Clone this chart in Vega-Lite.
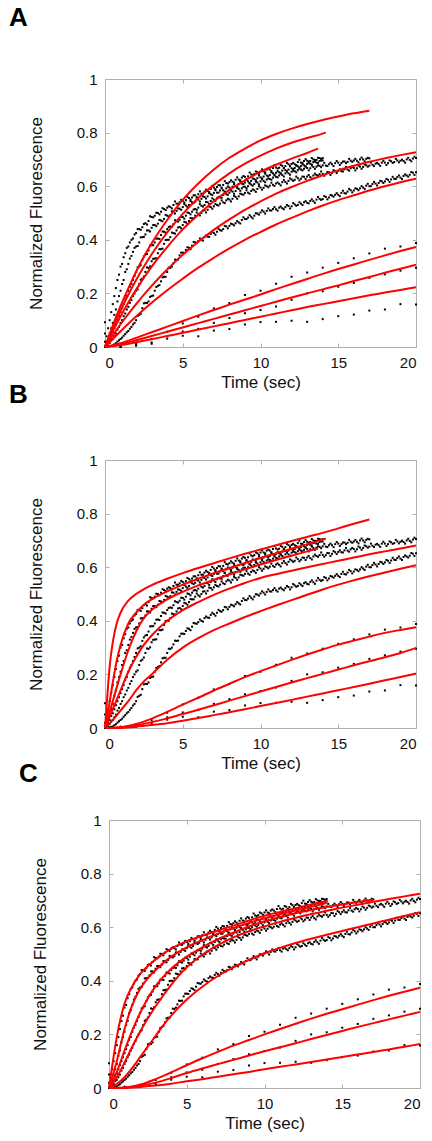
{
"$schema":"https://vega.github.io/schema/vega-lite/v6.json",
"background":"white",
"padding":{"left":8,"top":4,"right":4,"bottom":4},
"config":{
 "view":{"stroke":"#b0b0b0","strokeWidth":1},
 "axis":{"domain":false,"grid":false,"tickColor":"#b0b0b0","tickSize":-4,"tickWidth":1,"labelFont":"Liberation Sans","labelFontSize":15,"labelColor":"#111","labelPadding":12,"titleFont":"Liberation Sans","titleFontSize":17,"titleFontWeight":"normal","titleColor":"#111"},
 "title":{"font":"Liberation Sans","fontSize":26,"fontWeight":"bold","color":"#000","anchor":"start","frame":"group"}
},
"datasets":{
"dots":[
{"s":"T1","t":0,"v":0.092},{"s":"T1","t":0.1,"v":0.04},{"s":"T1","t":0.2,"v":0.07},{"s":"T1","t":0.3,"v":0.1},{"s":"T1","t":0.4,"v":0.13},{"s":"T1","t":0.5,"v":0.16},{"s":"T1","t":0.6,"v":0.19},{"s":"T1","t":0.7,"v":0.22},{"s":"T1","t":0.8,"v":0.25},{"s":"T1","t":0.9,"v":0.27},{"s":"T1","t":1.0,"v":0.3},{"s":"T1","t":1.1,"v":0.31},{"s":"T1","t":1.2,"v":0.335},{"s":"T1","t":1.3,"v":0.35},{"s":"T1","t":1.4,"v":0.37},{"s":"T1","t":1.5,"v":0.375},{"s":"T1","t":1.6,"v":0.39},{"s":"T1","t":1.7,"v":0.4},{"s":"T1","t":1.8,"v":0.405},{"s":"T1","t":1.9,"v":0.42},{"s":"T1","t":2.0,"v":0.425},
{"s":"T1","t":2.2,"v":0.44},{"s":"T1","t":2.4,"v":0.447},{"s":"T1","t":2.6,"v":0.462},{"s":"T1","t":2.8,"v":0.47},{"s":"T1","t":3.0,"v":0.485},{"s":"T1","t":3.2,"v":0.49},{"s":"T1","t":3.4,"v":0.5},{"s":"T1","t":3.6,"v":0.505},{"s":"T1","t":3.8,"v":0.515},{"s":"T1","t":4.0,"v":0.52},{"s":"T1","t":4.2,"v":0.522},{"s":"T1","t":4.4,"v":0.53},{"s":"T1","t":4.6,"v":0.535},{"s":"T1","t":4.8,"v":0.54},{"s":"T1","t":5.0,"v":0.545},{"s":"T1","t":5.2,"v":0.548},{"s":"T1","t":5.4,"v":0.556},{"s":"T1","t":5.6,"v":0.558},{"s":"T1","t":5.8,"v":0.566},{"s":"T1","t":6.0,"v":0.57},{"s":"T1","t":6.2,"v":0.572},{"s":"T1","t":6.4,"v":0.58},{"s":"T1","t":6.6,"v":0.582},{"s":"T1","t":6.8,"v":0.59},{"s":"T1","t":7.0,"v":0.595},{"s":"T1","t":7.2,"v":0.597},{"s":"T1","t":7.4,"v":0.603},{"s":"T1","t":7.6,"v":0.605},{"s":"T1","t":7.8,"v":0.612},{"s":"T1","t":8.0,"v":0.615},{"s":"T1","t":8.2,"v":0.617},{"s":"T1","t":8.4,"v":0.624},{"s":"T1","t":8.6,"v":0.625},{"s":"T1","t":8.8,"v":0.632},{"s":"T1","t":9.0,"v":0.635},{"s":"T1","t":9.2,"v":0.637},{"s":"T1","t":9.4,"v":0.644},{"s":"T1","t":9.6,"v":0.645},{"s":"T1","t":9.8,"v":0.652},{"s":"T1","t":10.0,"v":0.655},{"s":"T1","t":10.2,"v":0.655},{"s":"T1","t":10.4,"v":0.662},{"s":"T1","t":10.6,"v":0.662},{"s":"T1","t":10.8,"v":0.668},{"s":"T1","t":11.0,"v":0.67},{"s":"T1","t":11.2,"v":0.669},{"s":"T1","t":11.4,"v":0.676},{"s":"T1","t":11.6,"v":0.675},{"s":"T1","t":11.8,"v":0.682},{"s":"T1","t":12.0,"v":0.683},{"s":"T1","t":12.2,"v":0.682},{"s":"T1","t":12.4,"v":0.69},{"s":"T1","t":12.6,"v":0.688},{"s":"T1","t":12.8,"v":0.694},{"s":"T1","t":13.0,"v":0.695},{"s":"T1","t":13.2,"v":0.694},{"s":"T1","t":13.4,"v":0.7},{"s":"T1","t":13.6,"v":0.698},{"s":"T1","t":13.8,"v":0.705},{"s":"T1","t":14.0,"v":0.705},
{"s":"T1","t":2.1,"v":0.44},{"s":"T1","t":2.3,"v":0.437},{"s":"T1","t":2.5,"v":0.459},{"s":"T1","t":2.7,"v":0.457},{"s":"T1","t":2.9,"v":0.488},{"s":"T1","t":3.1,"v":0.484},{"s":"T1","t":3.3,"v":0.501},{"s":"T1","t":3.5,"v":0.495},{"s":"T1","t":3.7,"v":0.518},{"s":"T1","t":3.9,"v":0.511},{"s":"T1","t":4.1,"v":0.525},{"s":"T1","t":4.3,"v":0.517},{"s":"T1","t":4.5,"v":0.543},{"s":"T1","t":4.7,"v":0.534},{"s":"T1","t":4.9,"v":0.549},{"s":"T1","t":5.1,"v":0.539},{"s":"T1","t":5.3,"v":0.56},{"s":"T1","t":5.5,"v":0.55},{"s":"T1","t":5.7,"v":0.566},{"s":"T1","t":5.9,"v":0.559},{"s":"T1","t":6.1,"v":0.581},{"s":"T1","t":6.3,"v":0.572},{"s":"T1","t":6.5,"v":0.587},{"s":"T1","t":6.7,"v":0.578},{"s":"T1","t":6.9,"v":0.601},{"s":"T1","t":7.1,"v":0.589},{"s":"T1","t":7.3,"v":0.604},{"s":"T1","t":7.5,"v":0.595},{"s":"T1","t":7.7,"v":0.619},{"s":"T1","t":7.9,"v":0.61},{"s":"T1","t":8.1,"v":0.622},{"s":"T1","t":8.3,"v":0.613},{"s":"T1","t":8.5,"v":0.633},{"s":"T1","t":8.7,"v":0.622},{"s":"T1","t":8.9,"v":0.638},{"s":"T1","t":9.1,"v":0.627},{"s":"T1","t":9.3,"v":0.651},{"s":"T1","t":9.5,"v":0.641},{"s":"T1","t":9.7,"v":0.655},{"s":"T1","t":9.9,"v":0.646},{"s":"T1","t":10.1,"v":0.663},{"s":"T1","t":10.3,"v":0.652},{"s":"T1","t":10.5,"v":0.666},{"s":"T1","t":10.7,"v":0.656},{"s":"T1","t":10.9,"v":0.679},{"s":"T1","t":11.1,"v":0.666},{"s":"T1","t":11.3,"v":0.679},{"s":"T1","t":11.5,"v":0.668},{"s":"T1","t":11.7,"v":0.687},{"s":"T1","t":11.9,"v":0.676},{"s":"T1","t":12.1,"v":0.687},{"s":"T1","t":12.3,"v":0.677},{"s":"T1","t":12.5,"v":0.699},{"s":"T1","t":12.7,"v":0.687},{"s":"T1","t":12.9,"v":0.701},{"s":"T1","t":13.1,"v":0.687},{"s":"T1","t":13.3,"v":0.705},{"s":"T1","t":13.5,"v":0.692},{"s":"T1","t":13.7,"v":0.706},{"s":"T1","t":13.9,"v":0.696},
{"s":"T2","t":0,"v":0.05},{"s":"T2","t":0.1,"v":0.02},{"s":"T2","t":0.2,"v":0.03},{"s":"T2","t":0.3,"v":0.05},{"s":"T2","t":0.4,"v":0.07},{"s":"T2","t":0.5,"v":0.09},{"s":"T2","t":0.6,"v":0.12},{"s":"T2","t":0.7,"v":0.14},{"s":"T2","t":0.8,"v":0.17},{"s":"T2","t":0.9,"v":0.19},{"s":"T2","t":1.0,"v":0.21},{"s":"T2","t":1.1,"v":0.235},{"s":"T2","t":1.2,"v":0.25},{"s":"T2","t":1.3,"v":0.28},{"s":"T2","t":1.4,"v":0.29},{"s":"T2","t":1.5,"v":0.31},{"s":"T2","t":1.6,"v":0.33},{"s":"T2","t":1.7,"v":0.34},{"s":"T2","t":1.8,"v":0.355},{"s":"T2","t":1.9,"v":0.37},{"s":"T2","t":2.0,"v":0.375},
{"s":"T2","t":2.2,"v":0.39},{"s":"T2","t":2.4,"v":0.41},{"s":"T2","t":2.6,"v":0.42},{"s":"T2","t":2.8,"v":0.435},{"s":"T2","t":3.0,"v":0.445},{"s":"T2","t":3.2,"v":0.455},{"s":"T2","t":3.4,"v":0.46},{"s":"T2","t":3.6,"v":0.472},{"s":"T2","t":3.8,"v":0.478},{"s":"T2","t":4.0,"v":0.49},{"s":"T2","t":4.2,"v":0.492},{"s":"T2","t":4.4,"v":0.505},{"s":"T2","t":4.6,"v":0.508},{"s":"T2","t":4.8,"v":0.516},{"s":"T2","t":5.0,"v":0.522},{"s":"T2","t":5.2,"v":0.528},{"s":"T2","t":5.4,"v":0.53},{"s":"T2","t":5.6,"v":0.54},{"s":"T2","t":5.8,"v":0.542},{"s":"T2","t":6.0,"v":0.55},{"s":"T2","t":6.2,"v":0.553},{"s":"T2","t":6.4,"v":0.56},{"s":"T2","t":6.6,"v":0.562},{"s":"T2","t":6.8,"v":0.57},{"s":"T2","t":7.0,"v":0.575},{"s":"T2","t":7.2,"v":0.576},{"s":"T2","t":7.4,"v":0.584},{"s":"T2","t":7.6,"v":0.585},{"s":"T2","t":7.8,"v":0.592},{"s":"T2","t":8.0,"v":0.595},{"s":"T2","t":8.2,"v":0.598},{"s":"T2","t":8.4,"v":0.6},{"s":"T2","t":8.6,"v":0.608},{"s":"T2","t":8.8,"v":0.61},{"s":"T2","t":9.0,"v":0.614},{"s":"T2","t":9.2,"v":0.618},{"s":"T2","t":9.4,"v":0.62},{"s":"T2","t":9.6,"v":0.627},{"s":"T2","t":9.8,"v":0.63},{"s":"T2","t":10.0,"v":0.633},{"s":"T2","t":10.2,"v":0.636},{"s":"T2","t":10.4,"v":0.64},{"s":"T2","t":10.6,"v":0.642},{"s":"T2","t":10.8,"v":0.648},{"s":"T2","t":11.0,"v":0.65},{"s":"T2","t":11.2,"v":0.652},{"s":"T2","t":11.4,"v":0.658},{"s":"T2","t":11.6,"v":0.66},{"s":"T2","t":11.8,"v":0.662},{"s":"T2","t":12.0,"v":0.667},{"s":"T2","t":12.2,"v":0.668},{"s":"T2","t":12.4,"v":0.674},{"s":"T2","t":12.6,"v":0.675},{"s":"T2","t":12.8,"v":0.678},{"s":"T2","t":13.0,"v":0.683},{"s":"T2","t":13.2,"v":0.684},{"s":"T2","t":13.4,"v":0.69},{"s":"T2","t":13.6,"v":0.688},{"s":"T2","t":13.8,"v":0.694},{"s":"T2","t":14.0,"v":0.696},
{"s":"T2","t":2.1,"v":0.377},{"s":"T2","t":2.3,"v":0.409},{"s":"T2","t":2.5,"v":0.411},{"s":"T2","t":2.7,"v":0.435},{"s":"T2","t":2.9,"v":0.431},{"s":"T2","t":3.1,"v":0.455},{"s":"T2","t":3.3,"v":0.451},{"s":"T2","t":3.5,"v":0.474},{"s":"T2","t":3.7,"v":0.469},{"s":"T2","t":3.9,"v":0.493},{"s":"T2","t":4.1,"v":0.487},{"s":"T2","t":4.3,"v":0.506},{"s":"T2","t":4.5,"v":0.498},{"s":"T2","t":4.7,"v":0.517},{"s":"T2","t":4.9,"v":0.512},{"s":"T2","t":5.1,"v":0.533},{"s":"T2","t":5.3,"v":0.523},{"s":"T2","t":5.5,"v":0.544},{"s":"T2","t":5.7,"v":0.537},{"s":"T2","t":5.9,"v":0.553},{"s":"T2","t":6.1,"v":0.543},{"s":"T2","t":6.3,"v":0.562},{"s":"T2","t":6.5,"v":0.554},{"s":"T2","t":6.7,"v":0.574},{"s":"T2","t":6.9,"v":0.567},{"s":"T2","t":7.1,"v":0.585},{"s":"T2","t":7.3,"v":0.576},{"s":"T2","t":7.5,"v":0.592},{"s":"T2","t":7.7,"v":0.58},{"s":"T2","t":7.9,"v":0.599},{"s":"T2","t":8.1,"v":0.59},{"s":"T2","t":8.3,"v":0.607},{"s":"T2","t":8.5,"v":0.598},{"s":"T2","t":8.7,"v":0.618},{"s":"T2","t":8.9,"v":0.608},{"s":"T2","t":9.1,"v":0.623},{"s":"T2","t":9.3,"v":0.61},{"s":"T2","t":9.5,"v":0.629},{"s":"T2","t":9.7,"v":0.622},{"s":"T2","t":9.9,"v":0.64},{"s":"T2","t":10.1,"v":0.629},{"s":"T2","t":10.3,"v":0.647},{"s":"T2","t":10.5,"v":0.637},{"s":"T2","t":10.7,"v":0.652},{"s":"T2","t":10.9,"v":0.64},{"s":"T2","t":11.1,"v":0.656},{"s":"T2","t":11.3,"v":0.648},{"s":"T2","t":11.5,"v":0.667},{"s":"T2","t":11.7,"v":0.655},{"s":"T2","t":11.9,"v":0.674},{"s":"T2","t":12.1,"v":0.664},{"s":"T2","t":12.3,"v":0.678},{"s":"T2","t":12.5,"v":0.666},{"s":"T2","t":12.7,"v":0.682},{"s":"T2","t":12.9,"v":0.674},{"s":"T2","t":13.1,"v":0.692},{"s":"T2","t":13.3,"v":0.681},{"s":"T2","t":13.5,"v":0.698},{"s":"T2","t":13.7,"v":0.687},{"s":"T2","t":13.9,"v":0.702},
{"s":"T3","t":0,"v":0.02},{"s":"T3","t":0.1,"v":0.01},{"s":"T3","t":0.2,"v":0.02},{"s":"T3","t":0.3,"v":0.03},{"s":"T3","t":0.4,"v":0.045},{"s":"T3","t":0.5,"v":0.055},{"s":"T3","t":0.6,"v":0.07},{"s":"T3","t":0.7,"v":0.085},{"s":"T3","t":0.8,"v":0.1},{"s":"T3","t":0.9,"v":0.115},{"s":"T3","t":1.0,"v":0.13},{"s":"T3","t":1.1,"v":0.145},{"s":"T3","t":1.2,"v":0.16},{"s":"T3","t":1.3,"v":0.18},{"s":"T3","t":1.4,"v":0.19},{"s":"T3","t":1.5,"v":0.21},{"s":"T3","t":1.6,"v":0.225},{"s":"T3","t":1.7,"v":0.235},{"s":"T3","t":1.8,"v":0.25},{"s":"T3","t":1.9,"v":0.265},{"s":"T3","t":2.0,"v":0.28},
{"s":"T3","t":2.2,"v":0.3},{"s":"T3","t":2.4,"v":0.325},{"s":"T3","t":2.6,"v":0.345},{"s":"T3","t":2.8,"v":0.36},{"s":"T3","t":3.0,"v":0.38},{"s":"T3","t":3.2,"v":0.39},{"s":"T3","t":3.4,"v":0.405},{"s":"T3","t":3.6,"v":0.418},{"s":"T3","t":3.8,"v":0.43},{"s":"T3","t":4.0,"v":0.44},{"s":"T3","t":4.2,"v":0.45},{"s":"T3","t":4.4,"v":0.458},{"s":"T3","t":4.6,"v":0.47},{"s":"T3","t":4.8,"v":0.475},{"s":"T3","t":5.0,"v":0.485},{"s":"T3","t":5.2,"v":0.49},{"s":"T3","t":5.4,"v":0.5},{"s":"T3","t":5.6,"v":0.505},{"s":"T3","t":5.8,"v":0.515},{"s":"T3","t":6.0,"v":0.52},{"s":"T3","t":6.2,"v":0.527},{"s":"T3","t":6.4,"v":0.53},{"s":"T3","t":6.6,"v":0.54},{"s":"T3","t":6.8,"v":0.545},{"s":"T3","t":7.0,"v":0.55},{"s":"T3","t":7.2,"v":0.555},{"s":"T3","t":7.4,"v":0.558},{"s":"T3","t":7.6,"v":0.567},{"s":"T3","t":7.8,"v":0.57},{"s":"T3","t":8.0,"v":0.576},{"s":"T3","t":8.2,"v":0.58},{"s":"T3","t":8.4,"v":0.582},{"s":"T3","t":8.6,"v":0.59},{"s":"T3","t":8.8,"v":0.592},{"s":"T3","t":9.0,"v":0.598},{"s":"T3","t":9.2,"v":0.6},{"s":"T3","t":9.4,"v":0.606},{"s":"T3","t":9.6,"v":0.608},{"s":"T3","t":9.8,"v":0.614},{"s":"T3","t":10.0,"v":0.618},{"s":"T3","t":10.2,"v":0.62},{"s":"T3","t":10.4,"v":0.625},{"s":"T3","t":10.6,"v":0.627},{"s":"T3","t":10.8,"v":0.632},{"s":"T3","t":11.0,"v":0.635},{"s":"T3","t":11.2,"v":0.64},{"s":"T3","t":11.4,"v":0.642},{"s":"T3","t":11.6,"v":0.648},{"s":"T3","t":11.8,"v":0.648},{"s":"T3","t":12.0,"v":0.654},{"s":"T3","t":12.2,"v":0.656},{"s":"T3","t":12.4,"v":0.66},{"s":"T3","t":12.6,"v":0.662},{"s":"T3","t":12.8,"v":0.665},{"s":"T3","t":13.0,"v":0.668},{"s":"T3","t":13.2,"v":0.667},{"s":"T3","t":13.4,"v":0.672},{"s":"T3","t":13.6,"v":0.673},{"s":"T3","t":13.8,"v":0.676},{"s":"T3","t":14.0,"v":0.678},{"s":"T3","t":14.2,"v":0.677},{"s":"T3","t":14.4,"v":0.682},{"s":"T3","t":14.6,"v":0.682},{"s":"T3","t":14.8,"v":0.686},{"s":"T3","t":15.0,"v":0.688},{"s":"T3","t":15.2,"v":0.686},{"s":"T3","t":15.4,"v":0.692},{"s":"T3","t":15.6,"v":0.691},{"s":"T3","t":15.8,"v":0.695},{"s":"T3","t":16.0,"v":0.696},{"s":"T3","t":16.2,"v":0.695},{"s":"T3","t":16.4,"v":0.7},{"s":"T3","t":16.6,"v":0.7},{"s":"T3","t":16.8,"v":0.702},{"s":"T3","t":17.0,"v":0.704},
{"s":"T3","t":2.1,"v":0.297},{"s":"T3","t":2.3,"v":0.305},{"s":"T3","t":2.5,"v":0.338},{"s":"T3","t":2.7,"v":0.347},{"s":"T3","t":2.9,"v":0.379},{"s":"T3","t":3.1,"v":0.38},{"s":"T3","t":3.3,"v":0.404},{"s":"T3","t":3.5,"v":0.403},{"s":"T3","t":3.7,"v":0.431},{"s":"T3","t":3.9,"v":0.427},{"s":"T3","t":4.1,"v":0.448},{"s":"T3","t":4.3,"v":0.448},{"s":"T3","t":4.5,"v":0.473},{"s":"T3","t":4.7,"v":0.468},{"s":"T3","t":4.9,"v":0.486},{"s":"T3","t":5.1,"v":0.479},{"s":"T3","t":5.3,"v":0.502},{"s":"T3","t":5.5,"v":0.495},{"s":"T3","t":5.7,"v":0.513},{"s":"T3","t":5.9,"v":0.512},{"s":"T3","t":6.1,"v":0.533},{"s":"T3","t":6.3,"v":0.524},{"s":"T3","t":6.5,"v":0.541},{"s":"T3","t":6.7,"v":0.534},{"s":"T3","t":6.9,"v":0.555},{"s":"T3","t":7.1,"v":0.545},{"s":"T3","t":7.3,"v":0.56},{"s":"T3","t":7.5,"v":0.557},{"s":"T3","t":7.7,"v":0.578},{"s":"T3","t":7.9,"v":0.568},{"s":"T3","t":8.1,"v":0.584},{"s":"T3","t":8.3,"v":0.572},{"s":"T3","t":8.5,"v":0.593},{"s":"T3","t":8.7,"v":0.583},{"s":"T3","t":8.9,"v":0.598},{"s":"T3","t":9.1,"v":0.593},{"s":"T3","t":9.3,"v":0.612},{"s":"T3","t":9.5,"v":0.602},{"s":"T3","t":9.7,"v":0.617},{"s":"T3","t":9.9,"v":0.607},{"s":"T3","t":10.1,"v":0.626},{"s":"T3","t":10.3,"v":0.615},{"s":"T3","t":10.5,"v":0.629},{"s":"T3","t":10.7,"v":0.624},{"s":"T3","t":10.9,"v":0.643},{"s":"T3","t":11.1,"v":0.633},{"s":"T3","t":11.3,"v":0.647},{"s":"T3","t":11.5,"v":0.636},{"s":"T3","t":11.7,"v":0.655},{"s":"T3","t":11.9,"v":0.643},{"s":"T3","t":12.1,"v":0.658},{"s":"T3","t":12.3,"v":0.652},{"s":"T3","t":12.5,"v":0.67},{"s":"T3","t":12.7,"v":0.659},{"s":"T3","t":12.9,"v":0.673},{"s":"T3","t":13.1,"v":0.659},{"s":"T3","t":13.3,"v":0.677},{"s":"T3","t":13.5,"v":0.665},{"s":"T3","t":13.7,"v":0.678},{"s":"T3","t":13.9,"v":0.671},{"s":"T3","t":14.1,"v":0.687},{"s":"T3","t":14.3,"v":0.675},{"s":"T3","t":14.5,"v":0.688},{"s":"T3","t":14.7,"v":0.675},{"s":"T3","t":14.9,"v":0.694},{"s":"T3","t":15.1,"v":0.679},{"s":"T3","t":15.3,"v":0.692},{"s":"T3","t":15.5,"v":0.686},{"s":"T3","t":15.7,"v":0.702},{"s":"T3","t":15.9,"v":0.691},{"s":"T3","t":16.1,"v":0.702},{"s":"T3","t":16.3,"v":0.689},{"s":"T3","t":16.5,"v":0.707},{"s":"T3","t":16.7,"v":0.693},{"s":"T3","t":16.9,"v":0.706},
{"s":"T4","t":0,"v":0.005},{"s":"T4","t":0.1,"v":0.005},{"s":"T4","t":0.2,"v":0.01},{"s":"T4","t":0.3,"v":0.015},{"s":"T4","t":0.4,"v":0.025},{"s":"T4","t":0.5,"v":0.03},{"s":"T4","t":0.6,"v":0.04},{"s":"T4","t":0.7,"v":0.05},{"s":"T4","t":0.8,"v":0.065},{"s":"T4","t":0.9,"v":0.075},{"s":"T4","t":1.0,"v":0.09},{"s":"T4","t":1.1,"v":0.1},{"s":"T4","t":1.2,"v":0.115},{"s":"T4","t":1.3,"v":0.125},{"s":"T4","t":1.4,"v":0.14},{"s":"T4","t":1.5,"v":0.15},{"s":"T4","t":1.6,"v":0.165},{"s":"T4","t":1.7,"v":0.175},{"s":"T4","t":1.8,"v":0.19},{"s":"T4","t":1.9,"v":0.2},{"s":"T4","t":2.0,"v":0.21},
{"s":"T4","t":2.2,"v":0.235},{"s":"T4","t":2.4,"v":0.255},{"s":"T4","t":2.6,"v":0.28},{"s":"T4","t":2.8,"v":0.295},{"s":"T4","t":3.0,"v":0.32},{"s":"T4","t":3.2,"v":0.33},{"s":"T4","t":3.4,"v":0.35},{"s":"T4","t":3.6,"v":0.365},{"s":"T4","t":3.8,"v":0.385},{"s":"T4","t":4.0,"v":0.4},{"s":"T4","t":4.2,"v":0.41},{"s":"T4","t":4.4,"v":0.425},{"s":"T4","t":4.6,"v":0.435},{"s":"T4","t":4.8,"v":0.448},{"s":"T4","t":5.0,"v":0.455},{"s":"T4","t":5.2,"v":0.465},{"s":"T4","t":5.4,"v":0.47},{"s":"T4","t":5.6,"v":0.48},{"s":"T4","t":5.8,"v":0.49},{"s":"T4","t":6.0,"v":0.495},{"s":"T4","t":6.2,"v":0.5},{"s":"T4","t":6.4,"v":0.51},{"s":"T4","t":6.6,"v":0.512},{"s":"T4","t":6.8,"v":0.522},{"s":"T4","t":7.0,"v":0.525},{"s":"T4","t":7.2,"v":0.53},{"s":"T4","t":7.4,"v":0.535},{"s":"T4","t":7.6,"v":0.54},{"s":"T4","t":7.8,"v":0.547},{"s":"T4","t":8.0,"v":0.55},{"s":"T4","t":8.2,"v":0.553},{"s":"T4","t":8.4,"v":0.56},{"s":"T4","t":8.6,"v":0.562},{"s":"T4","t":8.8,"v":0.57},{"s":"T4","t":9.0,"v":0.575},{"s":"T4","t":9.2,"v":0.576},{"s":"T4","t":9.4,"v":0.582},{"s":"T4","t":9.6,"v":0.585},{"s":"T4","t":9.8,"v":0.59},{"s":"T4","t":10.0,"v":0.595},{"s":"T4","t":10.2,"v":0.594},{"s":"T4","t":10.4,"v":0.6},{"s":"T4","t":10.6,"v":0.602},{"s":"T4","t":10.8,"v":0.605},{"s":"T4","t":11.0,"v":0.61},{"s":"T4","t":11.2,"v":0.609},{"s":"T4","t":11.4,"v":0.615},{"s":"T4","t":11.6,"v":0.616},{"s":"T4","t":11.8,"v":0.62},{"s":"T4","t":12.0,"v":0.625},{"s":"T4","t":12.2,"v":0.624},{"s":"T4","t":12.4,"v":0.63},{"s":"T4","t":12.6,"v":0.628},{"s":"T4","t":12.8,"v":0.635},{"s":"T4","t":13.0,"v":0.636},{"s":"T4","t":13.2,"v":0.634},{"s":"T4","t":13.4,"v":0.64},{"s":"T4","t":13.6,"v":0.642},{"s":"T4","t":13.8,"v":0.645},{"s":"T4","t":14.0,"v":0.646},{"s":"T4","t":14.2,"v":0.645},{"s":"T4","t":14.4,"v":0.652},{"s":"T4","t":14.6,"v":0.65},{"s":"T4","t":14.8,"v":0.656},{"s":"T4","t":15.0,"v":0.657},{"s":"T4","t":15.2,"v":0.656},{"s":"T4","t":15.4,"v":0.663},{"s":"T4","t":15.6,"v":0.662},{"s":"T4","t":15.8,"v":0.667},{"s":"T4","t":16.0,"v":0.668},{"s":"T4","t":16.2,"v":0.667},{"s":"T4","t":16.4,"v":0.673},{"s":"T4","t":16.6,"v":0.672},{"s":"T4","t":16.8,"v":0.678},{"s":"T4","t":17.0,"v":0.677},{"s":"T4","t":17.2,"v":0.68},{"s":"T4","t":17.4,"v":0.684},{"s":"T4","t":17.6,"v":0.682},{"s":"T4","t":17.8,"v":0.688},{"s":"T4","t":18.0,"v":0.688},{"s":"T4","t":18.2,"v":0.686},{"s":"T4","t":18.4,"v":0.693},{"s":"T4","t":18.6,"v":0.69},{"s":"T4","t":18.8,"v":0.696},{"s":"T4","t":19.0,"v":0.695},{"s":"T4","t":19.2,"v":0.694},{"s":"T4","t":19.4,"v":0.7},{"s":"T4","t":19.6,"v":0.698},{"s":"T4","t":19.8,"v":0.703},{"s":"T4","t":20.0,"v":0.705},
{"s":"T4","t":2.1,"v":0.215},{"s":"T4","t":2.3,"v":0.251},{"s":"T4","t":2.5,"v":0.263},{"s":"T4","t":2.7,"v":0.297},{"s":"T4","t":2.9,"v":0.301},{"s":"T4","t":3.1,"v":0.329},{"s":"T4","t":3.3,"v":0.331},{"s":"T4","t":3.5,"v":0.365},{"s":"T4","t":3.7,"v":0.367},{"s":"T4","t":3.9,"v":0.399},{"s":"T4","t":4.1,"v":0.4},{"s":"T4","t":4.3,"v":0.427},{"s":"T4","t":4.5,"v":0.423},{"s":"T4","t":4.7,"v":0.446},{"s":"T4","t":4.9,"v":0.443},{"s":"T4","t":5.1,"v":0.467},{"s":"T4","t":5.3,"v":0.46},{"s":"T4","t":5.5,"v":0.481},{"s":"T4","t":5.7,"v":0.48},{"s":"T4","t":5.9,"v":0.502},{"s":"T4","t":6.1,"v":0.491},{"s":"T4","t":6.3,"v":0.509},{"s":"T4","t":6.5,"v":0.502},{"s":"T4","t":6.7,"v":0.524},{"s":"T4","t":6.9,"v":0.516},{"s":"T4","t":7.1,"v":0.534},{"s":"T4","t":7.3,"v":0.528},{"s":"T4","t":7.5,"v":0.547},{"s":"T4","t":7.7,"v":0.537},{"s":"T4","t":7.9,"v":0.553},{"s":"T4","t":8.1,"v":0.543},{"s":"T4","t":8.3,"v":0.564},{"s":"T4","t":8.5,"v":0.553},{"s":"T4","t":8.7,"v":0.572},{"s":"T4","t":8.9,"v":0.568},{"s":"T4","t":9.1,"v":0.585},{"s":"T4","t":9.3,"v":0.572},{"s":"T4","t":9.5,"v":0.588},{"s":"T4","t":9.7,"v":0.579},{"s":"T4","t":9.9,"v":0.6},{"s":"T4","t":10.1,"v":0.587},{"s":"T4","t":10.3,"v":0.603},{"s":"T4","t":10.5,"v":0.596},{"s":"T4","t":10.7,"v":0.613},{"s":"T4","t":10.9,"v":0.601},{"s":"T4","t":11.1,"v":0.614},{"s":"T4","t":11.3,"v":0.603},{"s":"T4","t":11.5,"v":0.623},{"s":"T4","t":11.7,"v":0.61},{"s":"T4","t":11.9,"v":0.629},{"s":"T4","t":12.1,"v":0.62},{"s":"T4","t":12.3,"v":0.636},{"s":"T4","t":12.5,"v":0.622},{"s":"T4","t":12.7,"v":0.636},{"s":"T4","t":12.9,"v":0.627},{"s":"T4","t":13.1,"v":0.642},{"s":"T4","t":13.3,"v":0.629},{"s":"T4","t":13.5,"v":0.647},{"s":"T4","t":13.7,"v":0.639},{"s":"T4","t":13.9,"v":0.655},{"s":"T4","t":14.1,"v":0.639},{"s":"T4","t":14.3,"v":0.653},{"s":"T4","t":14.5,"v":0.642},{"s":"T4","t":14.7,"v":0.66},{"s":"T4","t":14.9,"v":0.649},{"s":"T4","t":15.1,"v":0.663},{"s":"T4","t":15.3,"v":0.655},{"s":"T4","t":15.5,"v":0.672},{"s":"T4","t":15.7,"v":0.658},{"s":"T4","t":15.9,"v":0.672},{"s":"T4","t":16.1,"v":0.659},{"s":"T4","t":16.3,"v":0.677},{"s":"T4","t":16.5,"v":0.665},{"s":"T4","t":16.7,"v":0.681},{"s":"T4","t":16.9,"v":0.673},{"s":"T4","t":17.1,"v":0.688},{"s":"T4","t":17.3,"v":0.675},{"s":"T4","t":17.5,"v":0.687},{"s":"T4","t":17.7,"v":0.676},{"s":"T4","t":17.9,"v":0.695},{"s":"T4","t":18.1,"v":0.679},{"s":"T4","t":18.3,"v":0.696},{"s":"T4","t":18.5,"v":0.687},{"s":"T4","t":18.7,"v":0.702},{"s":"T4","t":18.9,"v":0.689},{"s":"T4","t":19.1,"v":0.699},{"s":"T4","t":19.3,"v":0.688},{"s":"T4","t":19.5,"v":0.706},{"s":"T4","t":19.7,"v":0.693},{"s":"T4","t":19.9,"v":0.71},
{"s":"T5","t":0,"v":0},{"s":"T5","t":0.1,"v":0},{"s":"T5","t":0.2,"v":0.002},{"s":"T5","t":0.3,"v":0.003},{"s":"T5","t":0.4,"v":0.004},{"s":"T5","t":0.5,"v":0.006},{"s":"T5","t":0.6,"v":0.01},{"s":"T5","t":0.7,"v":0.014},{"s":"T5","t":0.8,"v":0.02},{"s":"T5","t":0.9,"v":0.025},{"s":"T5","t":1.0,"v":0.03},{"s":"T5","t":1.1,"v":0.035},{"s":"T5","t":1.2,"v":0.042},{"s":"T5","t":1.3,"v":0.048},{"s":"T5","t":1.4,"v":0.055},{"s":"T5","t":1.5,"v":0.06},{"s":"T5","t":1.6,"v":0.068},{"s":"T5","t":1.7,"v":0.075},{"s":"T5","t":1.8,"v":0.084},{"s":"T5","t":1.9,"v":0.09},{"s":"T5","t":2.0,"v":0.1},
{"s":"T5","t":2.2,"v":0.12},{"s":"T5","t":2.4,"v":0.145},{"s":"T5","t":2.6,"v":0.165},{"s":"T5","t":2.8,"v":0.17},{"s":"T5","t":3.0,"v":0.19},{"s":"T5","t":3.2,"v":0.21},{"s":"T5","t":3.4,"v":0.228},{"s":"T5","t":3.6,"v":0.245},{"s":"T5","t":3.8,"v":0.262},{"s":"T5","t":4.0,"v":0.28},{"s":"T5","t":4.2,"v":0.295},{"s":"T5","t":4.4,"v":0.312},{"s":"T5","t":4.6,"v":0.325},{"s":"T5","t":4.8,"v":0.342},{"s":"T5","t":5.0,"v":0.352},{"s":"T5","t":5.2,"v":0.362},{"s":"T5","t":5.4,"v":0.37},{"s":"T5","t":5.6,"v":0.378},{"s":"T5","t":5.8,"v":0.39},{"s":"T5","t":6.0,"v":0.395},{"s":"T5","t":6.2,"v":0.4},{"s":"T5","t":6.4,"v":0.41},{"s":"T5","t":6.6,"v":0.412},{"s":"T5","t":6.8,"v":0.422},{"s":"T5","t":7.0,"v":0.425},{"s":"T5","t":7.2,"v":0.43},{"s":"T5","t":7.4,"v":0.436},{"s":"T5","t":7.6,"v":0.44},{"s":"T5","t":7.8,"v":0.45},{"s":"T5","t":8.0,"v":0.452},{"s":"T5","t":8.2,"v":0.458},{"s":"T5","t":8.4,"v":0.462},{"s":"T5","t":8.6,"v":0.465},{"s":"T5","t":8.8,"v":0.474},{"s":"T5","t":9.0,"v":0.478},{"s":"T5","t":9.2,"v":0.483},{"s":"T5","t":9.4,"v":0.486},{"s":"T5","t":9.6,"v":0.49},{"s":"T5","t":9.8,"v":0.498},{"s":"T5","t":10.0,"v":0.502},{"s":"T5","t":10.2,"v":0.505},{"s":"T5","t":10.4,"v":0.508},{"s":"T5","t":10.6,"v":0.51},{"s":"T5","t":10.8,"v":0.515},{"s":"T5","t":11.0,"v":0.514},{"s":"T5","t":11.2,"v":0.52},{"s":"T5","t":11.4,"v":0.518},{"s":"T5","t":11.6,"v":0.522},{"s":"T5","t":11.8,"v":0.526},{"s":"T5","t":12.0,"v":0.525},{"s":"T5","t":12.2,"v":0.532},{"s":"T5","t":12.4,"v":0.53},{"s":"T5","t":12.6,"v":0.535},{"s":"T5","t":12.8,"v":0.54},{"s":"T5","t":13.0,"v":0.538},{"s":"T5","t":13.2,"v":0.545},{"s":"T5","t":13.4,"v":0.544},{"s":"T5","t":13.6,"v":0.55},{"s":"T5","t":13.8,"v":0.553},{"s":"T5","t":14.0,"v":0.552},{"s":"T5","t":14.2,"v":0.56},{"s":"T5","t":14.4,"v":0.558},{"s":"T5","t":14.6,"v":0.565},{"s":"T5","t":14.8,"v":0.568},{"s":"T5","t":15.0,"v":0.568},{"s":"T5","t":15.2,"v":0.575},{"s":"T5","t":15.4,"v":0.574},{"s":"T5","t":15.6,"v":0.58},{"s":"T5","t":15.8,"v":0.585},{"s":"T5","t":16.0,"v":0.584},{"s":"T5","t":16.2,"v":0.59},{"s":"T5","t":16.4,"v":0.592},{"s":"T5","t":16.6,"v":0.595},{"s":"T5","t":16.8,"v":0.602},{"s":"T5","t":17.0,"v":0.6},{"s":"T5","t":17.2,"v":0.608},{"s":"T5","t":17.4,"v":0.61},{"s":"T5","t":17.6,"v":0.612},{"s":"T5","t":17.8,"v":0.618},{"s":"T5","t":18.0,"v":0.618},{"s":"T5","t":18.2,"v":0.624},{"s":"T5","t":18.4,"v":0.625},{"s":"T5","t":18.6,"v":0.628},{"s":"T5","t":18.8,"v":0.634},{"s":"T5","t":19.0,"v":0.632},{"s":"T5","t":19.2,"v":0.638},{"s":"T5","t":19.4,"v":0.64},{"s":"T5","t":19.6,"v":0.643},{"s":"T5","t":19.8,"v":0.65},{"s":"T5","t":20.0,"v":0.652},
{"s":"T5","t":2.1,"v":0.116},{"s":"T5","t":2.3,"v":0.124},{"s":"T5","t":2.5,"v":0.163},{"s":"T5","t":2.7,"v":0.164},{"s":"T5","t":2.9,"v":0.187},{"s":"T5","t":3.1,"v":0.192},{"s":"T5","t":3.3,"v":0.224},{"s":"T5","t":3.5,"v":0.231},{"s":"T5","t":3.7,"v":0.26},{"s":"T5","t":3.9,"v":0.262},{"s":"T5","t":4.1,"v":0.296},{"s":"T5","t":4.3,"v":0.3},{"s":"T5","t":4.5,"v":0.326},{"s":"T5","t":4.7,"v":0.326},{"s":"T5","t":4.9,"v":0.352},{"s":"T5","t":5.1,"v":0.351},{"s":"T5","t":5.3,"v":0.372},{"s":"T5","t":5.5,"v":0.365},{"s":"T5","t":5.7,"v":0.392},{"s":"T5","t":5.9,"v":0.389},{"s":"T5","t":6.1,"v":0.405},{"s":"T5","t":6.3,"v":0.397},{"s":"T5","t":6.5,"v":0.416},{"s":"T5","t":6.7,"v":0.411},{"s":"T5","t":6.9,"v":0.43},{"s":"T5","t":7.1,"v":0.419},{"s":"T5","t":7.3,"v":0.441},{"s":"T5","t":7.5,"v":0.434},{"s":"T5","t":7.7,"v":0.452},{"s":"T5","t":7.9,"v":0.443},{"s":"T5","t":8.1,"v":0.46},{"s":"T5","t":8.3,"v":0.454},{"s":"T5","t":8.5,"v":0.47},{"s":"T5","t":8.7,"v":0.461},{"s":"T5","t":8.9,"v":0.484},{"s":"T5","t":9.1,"v":0.477},{"s":"T5","t":9.3,"v":0.492},{"s":"T5","t":9.5,"v":0.48},{"s":"T5","t":9.7,"v":0.499},{"s":"T5","t":9.9,"v":0.494},{"s":"T5","t":10.1,"v":0.51},{"s":"T5","t":10.3,"v":0.498},{"s":"T5","t":10.5,"v":0.517},{"s":"T5","t":10.7,"v":0.509},{"s":"T5","t":10.9,"v":0.522},{"s":"T5","t":11.1,"v":0.509},{"s":"T5","t":11.3,"v":0.524},{"s":"T5","t":11.5,"v":0.514},{"s":"T5","t":11.7,"v":0.53},{"s":"T5","t":11.9,"v":0.517},{"s":"T5","t":12.1,"v":0.537},{"s":"T5","t":12.3,"v":0.527},{"s":"T5","t":12.5,"v":0.54},{"s":"T5","t":12.7,"v":0.53},{"s":"T5","t":12.9,"v":0.544},{"s":"T5","t":13.1,"v":0.536},{"s":"T5","t":13.3,"v":0.551},{"s":"T5","t":13.5,"v":0.538},{"s":"T5","t":13.7,"v":0.56},{"s":"T5","t":13.9,"v":0.549},{"s":"T5","t":14.1,"v":0.563},{"s":"T5","t":14.3,"v":0.551},{"s":"T5","t":14.5,"v":0.567},{"s":"T5","t":14.7,"v":0.561},{"s":"T5","t":14.9,"v":0.574},{"s":"T5","t":15.1,"v":0.563},{"s":"T5","t":15.3,"v":0.583},{"s":"T5","t":15.5,"v":0.573},{"s":"T5","t":15.7,"v":0.59},{"s":"T5","t":15.9,"v":0.577},{"s":"T5","t":16.1,"v":0.592},{"s":"T5","t":16.3,"v":0.585},{"s":"T5","t":16.5,"v":0.6},{"s":"T5","t":16.7,"v":0.59},{"s":"T5","t":16.9,"v":0.609},{"s":"T5","t":17.1,"v":0.6},{"s":"T5","t":17.3,"v":0.616},{"s":"T5","t":17.5,"v":0.603},{"s":"T5","t":17.7,"v":0.62},{"s":"T5","t":17.9,"v":0.612},{"s":"T5","t":18.1,"v":0.627},{"s":"T5","t":18.3,"v":0.616},{"s":"T5","t":18.5,"v":0.635},{"s":"T5","t":18.7,"v":0.627},{"s":"T5","t":18.9,"v":0.64},{"s":"T5","t":19.1,"v":0.627},{"s":"T5","t":19.3,"v":0.644},{"s":"T5","t":19.5,"v":0.636},{"s":"T5","t":19.7,"v":0.653},{"s":"T5","t":19.9,"v":0.642},
{"s":"S1","t":1,"v":0.005},{"s":"S1","t":2,"v":0.012},{"s":"S1","t":3,"v":0.03},{"s":"S1","t":4,"v":0.057},{"s":"S1","t":5,"v":0.088},{"s":"S1","t":6,"v":0.113},{"s":"S1","t":7,"v":0.144},{"s":"S1","t":8,"v":0.164},{"s":"S1","t":9,"v":0.194},{"s":"S1","t":10,"v":0.21},{"s":"S1","t":11,"v":0.236},{"s":"S1","t":12,"v":0.262},{"s":"S1","t":13,"v":0.278},{"s":"S1","t":14,"v":0.296},{"s":"S1","t":15,"v":0.314},{"s":"S1","t":16,"v":0.331},{"s":"S1","t":17,"v":0.349},{"s":"S1","t":18,"v":0.367},{"s":"S1","t":19,"v":0.375},{"s":"S1","t":20,"v":0.388},
{"s":"S2","t":1,"v":0.0},{"s":"S2","t":2,"v":0.008},{"s":"S2","t":3,"v":0.017},{"s":"S2","t":4,"v":0.04},{"s":"S2","t":5,"v":0.058},{"s":"S2","t":6,"v":0.068},{"s":"S2","t":7,"v":0.09},{"s":"S2","t":8,"v":0.108},{"s":"S2","t":9,"v":0.126},{"s":"S2","t":10,"v":0.138},{"s":"S2","t":11,"v":0.151},{"s":"S2","t":12,"v":0.176},{"s":"S2","t":13,"v":0.2},{"s":"S2","t":14,"v":0.208},{"s":"S2","t":15,"v":0.225},{"s":"S2","t":16,"v":0.239},{"s":"S2","t":17,"v":0.258},{"s":"S2","t":18,"v":0.271},{"s":"S2","t":19,"v":0.285},{"s":"S2","t":20,"v":0.296},
{"s":"S3","t":1,"v":0.0},{"s":"S3","t":2,"v":0.005},{"s":"S3","t":3,"v":0.012},{"s":"S3","t":4,"v":0.031},{"s":"S3","t":5,"v":0.042},{"s":"S3","t":6,"v":0.04},{"s":"S3","t":7,"v":0.061},{"s":"S3","t":8,"v":0.067},{"s":"S3","t":9,"v":0.084},{"s":"S3","t":10,"v":0.093},{"s":"S3","t":11,"v":0.094},{"s":"S3","t":12,"v":0.098},{"s":"S3","t":13,"v":0.094},{"s":"S3","t":14,"v":0.104},{"s":"S3","t":15,"v":0.115},{"s":"S3","t":16,"v":0.121},{"s":"S3","t":17,"v":0.136},{"s":"S3","t":18,"v":0.14},{"s":"S3","t":19,"v":0.16},{"s":"S3","t":20,"v":0.159}
],
"fA":[
{"c":"A1","t":0,"v":0},{"c":"A1","t":0.5,"v":0.08},{"c":"A1","t":1,"v":0.153},{"c":"A1","t":1.5,"v":0.219},{"c":"A1","t":2,"v":0.281},{"c":"A1","t":3,"v":0.387},{"c":"A1","t":4,"v":0.474},{"c":"A1","t":5,"v":0.549},{"c":"A1","t":6,"v":0.61},{"c":"A1","t":7,"v":0.662},{"c":"A1","t":8,"v":0.706},{"c":"A1","t":9,"v":0.74},{"c":"A1","t":10,"v":0.771},{"c":"A1","t":11,"v":0.795},{"c":"A1","t":12,"v":0.815},{"c":"A1","t":13,"v":0.832},{"c":"A1","t":14,"v":0.847},{"c":"A1","t":15,"v":0.86},{"c":"A1","t":16,"v":0.872},{"c":"A1","t":17,"v":0.882},
{"c":"A2","t":0,"v":0},{"c":"A2","t":0.5,"v":0.07},{"c":"A2","t":1,"v":0.135},{"c":"A2","t":1.5,"v":0.195},{"c":"A2","t":2,"v":0.25},{"c":"A2","t":3,"v":0.346},{"c":"A2","t":4,"v":0.428},{"c":"A2","t":5,"v":0.497},{"c":"A2","t":6,"v":0.556},{"c":"A2","t":7,"v":0.605},{"c":"A2","t":8,"v":0.648},{"c":"A2","t":9,"v":0.684},{"c":"A2","t":10,"v":0.714},{"c":"A2","t":11,"v":0.74},{"c":"A2","t":12,"v":0.762},{"c":"A2","t":13,"v":0.78},{"c":"A2","t":14,"v":0.796},{"c":"A2","t":14.2,"v":0.8},
{"c":"A3","t":0,"v":0},{"c":"A3","t":0.5,"v":0.059},{"c":"A3","t":1,"v":0.114},{"c":"A3","t":1.5,"v":0.166},{"c":"A3","t":2,"v":0.214},{"c":"A3","t":3,"v":0.3},{"c":"A3","t":4,"v":0.373},{"c":"A3","t":5,"v":0.439},{"c":"A3","t":6,"v":0.494},{"c":"A3","t":7,"v":0.544},{"c":"A3","t":8,"v":0.586},{"c":"A3","t":9,"v":0.622},{"c":"A3","t":10,"v":0.654},{"c":"A3","t":11,"v":0.68},{"c":"A3","t":12,"v":0.703},{"c":"A3","t":13,"v":0.724},{"c":"A3","t":13.7,"v":0.74},
{"c":"A4","t":0,"v":0},{"c":"A4","t":0.5,"v":0.043},{"c":"A4","t":1,"v":0.085},{"c":"A4","t":1.5,"v":0.123},{"c":"A4","t":2,"v":0.16},{"c":"A4","t":3,"v":0.228},{"c":"A4","t":4,"v":0.289},{"c":"A4","t":5,"v":0.344},{"c":"A4","t":6,"v":0.393},{"c":"A4","t":7,"v":0.437},{"c":"A4","t":8,"v":0.476},{"c":"A4","t":9,"v":0.512},{"c":"A4","t":10,"v":0.543},{"c":"A4","t":11,"v":0.572},{"c":"A4","t":12,"v":0.597},{"c":"A4","t":13,"v":0.62},{"c":"A4","t":14,"v":0.641},{"c":"A4","t":15,"v":0.659},{"c":"A4","t":16,"v":0.676},{"c":"A4","t":17,"v":0.691},{"c":"A4","t":18,"v":0.704},{"c":"A4","t":19,"v":0.716},{"c":"A4","t":20,"v":0.727},
{"c":"A5","t":0,"v":0},{"c":"A5","t":0.5,"v":0.03},{"c":"A5","t":1,"v":0.059},{"c":"A5","t":1.5,"v":0.087},{"c":"A5","t":2,"v":0.114},{"c":"A5","t":3,"v":0.165},{"c":"A5","t":4,"v":0.212},{"c":"A5","t":5,"v":0.255},{"c":"A5","t":6,"v":0.296},{"c":"A5","t":7,"v":0.333},{"c":"A5","t":8,"v":0.368},{"c":"A5","t":9,"v":0.4},{"c":"A5","t":10,"v":0.429},{"c":"A5","t":11,"v":0.457},{"c":"A5","t":12,"v":0.482},{"c":"A5","t":13,"v":0.506},{"c":"A5","t":14,"v":0.528},{"c":"A5","t":15,"v":0.548},{"c":"A5","t":16,"v":0.566},{"c":"A5","t":17,"v":0.584},{"c":"A5","t":18,"v":0.6},{"c":"A5","t":19,"v":0.615},{"c":"A5","t":20,"v":0.628},
{"c":"A6","t":0,"v":0},{"c":"A6","t":1,"v":0.014},{"c":"A6","t":2,"v":0.034},{"c":"A6","t":3,"v":0.055},{"c":"A6","t":4,"v":0.076},{"c":"A6","t":5,"v":0.097},{"c":"A6","t":6,"v":0.118},{"c":"A6","t":7,"v":0.138},{"c":"A6","t":8,"v":0.158},{"c":"A6","t":9,"v":0.177},{"c":"A6","t":10,"v":0.196},{"c":"A6","t":11,"v":0.216},{"c":"A6","t":12,"v":0.235},{"c":"A6","t":13,"v":0.254},{"c":"A6","t":14,"v":0.273},{"c":"A6","t":15,"v":0.291},{"c":"A6","t":16,"v":0.308},{"c":"A6","t":17,"v":0.325},{"c":"A6","t":18,"v":0.342},{"c":"A6","t":19,"v":0.358},{"c":"A6","t":20,"v":0.373},
{"c":"A7","t":0,"v":0},{"c":"A7","t":1,"v":0.01},{"c":"A7","t":2,"v":0.025},{"c":"A7","t":3,"v":0.041},{"c":"A7","t":4,"v":0.057},{"c":"A7","t":5,"v":0.073},{"c":"A7","t":6,"v":0.089},{"c":"A7","t":7,"v":0.105},{"c":"A7","t":8,"v":0.121},{"c":"A7","t":9,"v":0.137},{"c":"A7","t":10,"v":0.153},{"c":"A7","t":11,"v":0.169},{"c":"A7","t":12,"v":0.185},{"c":"A7","t":13,"v":0.2},{"c":"A7","t":14,"v":0.215},{"c":"A7","t":15,"v":0.23},{"c":"A7","t":16,"v":0.246},{"c":"A7","t":17,"v":0.261},{"c":"A7","t":18,"v":0.277},{"c":"A7","t":19,"v":0.292},{"c":"A7","t":20,"v":0.307},
{"c":"A8","t":0,"v":0},{"c":"A8","t":1,"v":0.007},{"c":"A8","t":2,"v":0.018},{"c":"A8","t":3,"v":0.029},{"c":"A8","t":4,"v":0.041},{"c":"A8","t":5,"v":0.053},{"c":"A8","t":6,"v":0.065},{"c":"A8","t":7,"v":0.077},{"c":"A8","t":8,"v":0.089},{"c":"A8","t":9,"v":0.101},{"c":"A8","t":10,"v":0.113},{"c":"A8","t":11,"v":0.125},{"c":"A8","t":12,"v":0.137},{"c":"A8","t":13,"v":0.149},{"c":"A8","t":14,"v":0.16},{"c":"A8","t":15,"v":0.171},{"c":"A8","t":16,"v":0.182},{"c":"A8","t":17,"v":0.193},{"c":"A8","t":18,"v":0.203},{"c":"A8","t":19,"v":0.213},{"c":"A8","t":20,"v":0.223}
],
"fB":[
{"c":"B1","t":0,"v":0},{"c":"B1","t":0.1,"v":0.08},{"c":"B1","t":0.2,"v":0.16},{"c":"B1","t":0.3,"v":0.23},{"c":"B1","t":0.5,"v":0.32},{"c":"B1","t":0.75,"v":0.39},{"c":"B1","t":1,"v":0.43},{"c":"B1","t":1.5,"v":0.475},{"c":"B1","t":2,"v":0.5},{"c":"B1","t":2.5,"v":0.518},{"c":"B1","t":3,"v":0.533},{"c":"B1","t":4,"v":0.557},{"c":"B1","t":5,"v":0.578},{"c":"B1","t":6,"v":0.597},{"c":"B1","t":7,"v":0.615},{"c":"B1","t":8,"v":0.633},{"c":"B1","t":9,"v":0.65},{"c":"B1","t":10,"v":0.666},{"c":"B1","t":11,"v":0.682},{"c":"B1","t":12,"v":0.698},{"c":"B1","t":13,"v":0.713},{"c":"B1","t":14,"v":0.728},{"c":"B1","t":15,"v":0.745},{"c":"B1","t":16,"v":0.762},{"c":"B1","t":17,"v":0.778},
{"c":"B2","t":0,"v":0},{"c":"B2","t":0.25,"v":0.08},{"c":"B2","t":0.5,"v":0.17},{"c":"B2","t":0.75,"v":0.25},{"c":"B2","t":1,"v":0.31},{"c":"B2","t":1.5,"v":0.39},{"c":"B2","t":2,"v":0.43},{"c":"B2","t":2.5,"v":0.46},{"c":"B2","t":3,"v":0.48},{"c":"B2","t":4,"v":0.51},{"c":"B2","t":5,"v":0.535},{"c":"B2","t":6,"v":0.557},{"c":"B2","t":7,"v":0.578},{"c":"B2","t":8,"v":0.597},{"c":"B2","t":9,"v":0.616},{"c":"B2","t":10,"v":0.635},{"c":"B2","t":11,"v":0.652},{"c":"B2","t":12,"v":0.669},{"c":"B2","t":13,"v":0.686},{"c":"B2","t":14,"v":0.703},{"c":"B2","t":14.2,"v":0.707},
{"c":"B3","t":0,"v":0},{"c":"B3","t":0.5,"v":0.1},{"c":"B3","t":1,"v":0.2},{"c":"B3","t":1.5,"v":0.29},{"c":"B3","t":2,"v":0.36},{"c":"B3","t":2.5,"v":0.41},{"c":"B3","t":3,"v":0.44},{"c":"B3","t":4,"v":0.48},{"c":"B3","t":5,"v":0.508},{"c":"B3","t":6,"v":0.532},{"c":"B3","t":7,"v":0.553},{"c":"B3","t":8,"v":0.573},{"c":"B3","t":9,"v":0.592},{"c":"B3","t":10,"v":0.61},{"c":"B3","t":11,"v":0.627},{"c":"B3","t":12,"v":0.643},{"c":"B3","t":13,"v":0.659},{"c":"B3","t":13.7,"v":0.67},
{"c":"B4","t":0,"v":0},{"c":"B4","t":0.5,"v":0.07},{"c":"B4","t":1,"v":0.14},{"c":"B4","t":1.5,"v":0.21},{"c":"B4","t":2,"v":0.265},{"c":"B4","t":2.5,"v":0.31},{"c":"B4","t":3,"v":0.345},{"c":"B4","t":4,"v":0.4},{"c":"B4","t":5,"v":0.44},{"c":"B4","t":6,"v":0.47},{"c":"B4","t":7,"v":0.497},{"c":"B4","t":8,"v":0.52},{"c":"B4","t":9,"v":0.541},{"c":"B4","t":10,"v":0.56},{"c":"B4","t":11,"v":0.574},{"c":"B4","t":12,"v":0.587},{"c":"B4","t":13,"v":0.6},{"c":"B4","t":14,"v":0.612},{"c":"B4","t":15,"v":0.624},{"c":"B4","t":16,"v":0.636},{"c":"B4","t":17,"v":0.648},{"c":"B4","t":18,"v":0.659},{"c":"B4","t":19,"v":0.67},{"c":"B4","t":20,"v":0.681},
{"c":"B5","t":0,"v":0},{"c":"B5","t":0.5,"v":0.03},{"c":"B5","t":1,"v":0.065},{"c":"B5","t":1.5,"v":0.1},{"c":"B5","t":2,"v":0.14},{"c":"B5","t":2.5,"v":0.174},{"c":"B5","t":3,"v":0.2},{"c":"B5","t":4,"v":0.255},{"c":"B5","t":5,"v":0.3},{"c":"B5","t":6,"v":0.335},{"c":"B5","t":7,"v":0.365},{"c":"B5","t":8,"v":0.39},{"c":"B5","t":9,"v":0.414},{"c":"B5","t":10,"v":0.436},{"c":"B5","t":11,"v":0.457},{"c":"B5","t":12,"v":0.477},{"c":"B5","t":13,"v":0.497},{"c":"B5","t":14,"v":0.517},{"c":"B5","t":15,"v":0.535},{"c":"B5","t":16,"v":0.551},{"c":"B5","t":17,"v":0.566},{"c":"B5","t":18,"v":0.58},{"c":"B5","t":19,"v":0.594},{"c":"B5","t":20,"v":0.607},
{"c":"B6","t":0,"v":0},{"c":"B6","t":1,"v":0.003},{"c":"B6","t":2,"v":0.015},{"c":"B6","t":3,"v":0.035},{"c":"B6","t":4,"v":0.06},{"c":"B6","t":5,"v":0.087},{"c":"B6","t":6,"v":0.113},{"c":"B6","t":7,"v":0.14},{"c":"B6","t":8,"v":0.165},{"c":"B6","t":9,"v":0.19},{"c":"B6","t":10,"v":0.212},{"c":"B6","t":11,"v":0.233},{"c":"B6","t":12,"v":0.254},{"c":"B6","t":13,"v":0.274},{"c":"B6","t":14,"v":0.293},{"c":"B6","t":15,"v":0.311},{"c":"B6","t":16,"v":0.326},{"c":"B6","t":17,"v":0.341},{"c":"B6","t":18,"v":0.355},{"c":"B6","t":19,"v":0.366},{"c":"B6","t":20,"v":0.376},
{"c":"B7","t":0,"v":0},{"c":"B7","t":1,"v":0.002},{"c":"B7","t":2,"v":0.01},{"c":"B7","t":3,"v":0.022},{"c":"B7","t":4,"v":0.036},{"c":"B7","t":5,"v":0.052},{"c":"B7","t":6,"v":0.068},{"c":"B7","t":7,"v":0.085},{"c":"B7","t":8,"v":0.102},{"c":"B7","t":9,"v":0.119},{"c":"B7","t":10,"v":0.136},{"c":"B7","t":11,"v":0.153},{"c":"B7","t":12,"v":0.17},{"c":"B7","t":13,"v":0.186},{"c":"B7","t":14,"v":0.202},{"c":"B7","t":15,"v":0.218},{"c":"B7","t":16,"v":0.234},{"c":"B7","t":17,"v":0.249},{"c":"B7","t":18,"v":0.264},{"c":"B7","t":19,"v":0.28},{"c":"B7","t":20,"v":0.299},
{"c":"B8","t":0,"v":0},{"c":"B8","t":1,"v":0.001},{"c":"B8","t":2,"v":0.005},{"c":"B8","t":3,"v":0.011},{"c":"B8","t":4,"v":0.018},{"c":"B8","t":5,"v":0.027},{"c":"B8","t":6,"v":0.037},{"c":"B8","t":7,"v":0.048},{"c":"B8","t":8,"v":0.059},{"c":"B8","t":9,"v":0.07},{"c":"B8","t":10,"v":0.082},{"c":"B8","t":11,"v":0.093},{"c":"B8","t":12,"v":0.105},{"c":"B8","t":13,"v":0.117},{"c":"B8","t":14,"v":0.129},{"c":"B8","t":15,"v":0.141},{"c":"B8","t":16,"v":0.153},{"c":"B8","t":17,"v":0.165},{"c":"B8","t":18,"v":0.178},{"c":"B8","t":19,"v":0.19},{"c":"B8","t":20,"v":0.203}
],
"fC":[
{"c":"C1","t":0,"v":0},{"c":"C1","t":0.25,"v":0.1},{"c":"C1","t":0.5,"v":0.19},{"c":"C1","t":0.75,"v":0.26},{"c":"C1","t":1,"v":0.315},{"c":"C1","t":1.5,"v":0.38},{"c":"C1","t":2,"v":0.425},{"c":"C1","t":2.5,"v":0.455},{"c":"C1","t":3,"v":0.48},{"c":"C1","t":4,"v":0.52},{"c":"C1","t":5,"v":0.548},{"c":"C1","t":6,"v":0.568},{"c":"C1","t":7,"v":0.587},{"c":"C1","t":8,"v":0.606},{"c":"C1","t":9,"v":0.625},{"c":"C1","t":10,"v":0.643},{"c":"C1","t":11,"v":0.657},{"c":"C1","t":12,"v":0.671},{"c":"C1","t":13,"v":0.685},{"c":"C1","t":14,"v":0.698},
{"c":"C2","t":0,"v":0},{"c":"C2","t":0.5,"v":0.1},{"c":"C2","t":1,"v":0.22},{"c":"C2","t":1.5,"v":0.31},{"c":"C2","t":2,"v":0.37},{"c":"C2","t":2.5,"v":0.41},{"c":"C2","t":3,"v":0.44},{"c":"C2","t":4,"v":0.49},{"c":"C2","t":5,"v":0.525},{"c":"C2","t":6,"v":0.552},{"c":"C2","t":7,"v":0.576},{"c":"C2","t":8,"v":0.597},{"c":"C2","t":9,"v":0.616},{"c":"C2","t":10,"v":0.633},{"c":"C2","t":11,"v":0.648},{"c":"C2","t":12,"v":0.662},{"c":"C2","t":13,"v":0.676},{"c":"C2","t":14,"v":0.69},
{"c":"C3","t":0,"v":0},{"c":"C3","t":0.5,"v":0.06},{"c":"C3","t":1,"v":0.14},{"c":"C3","t":1.5,"v":0.215},{"c":"C3","t":2,"v":0.28},{"c":"C3","t":2.5,"v":0.335},{"c":"C3","t":3,"v":0.38},{"c":"C3","t":4,"v":0.445},{"c":"C3","t":5,"v":0.49},{"c":"C3","t":6,"v":0.525},{"c":"C3","t":7,"v":0.555},{"c":"C3","t":8,"v":0.58},{"c":"C3","t":9,"v":0.603},{"c":"C3","t":10,"v":0.622},{"c":"C3","t":11,"v":0.638},{"c":"C3","t":12,"v":0.652},{"c":"C3","t":13,"v":0.664},{"c":"C3","t":14,"v":0.675},{"c":"C3","t":15,"v":0.685},{"c":"C3","t":16,"v":0.694},{"c":"C3","t":17,"v":0.702},
{"c":"C4","t":0,"v":0},{"c":"C4","t":0.5,"v":0.04},{"c":"C4","t":1,"v":0.095},{"c":"C4","t":1.5,"v":0.155},{"c":"C4","t":2,"v":0.21},{"c":"C4","t":2.5,"v":0.26},{"c":"C4","t":3,"v":0.305},{"c":"C4","t":4,"v":0.385},{"c":"C4","t":5,"v":0.45},{"c":"C4","t":6,"v":0.497},{"c":"C4","t":7,"v":0.533},{"c":"C4","t":8,"v":0.562},{"c":"C4","t":9,"v":0.585},{"c":"C4","t":10,"v":0.603},{"c":"C4","t":11,"v":0.62},{"c":"C4","t":12,"v":0.635},{"c":"C4","t":13,"v":0.649},{"c":"C4","t":14,"v":0.661},{"c":"C4","t":15,"v":0.673},{"c":"C4","t":16,"v":0.684},{"c":"C4","t":17,"v":0.695},{"c":"C4","t":18,"v":0.705},{"c":"C4","t":19,"v":0.715},{"c":"C4","t":20,"v":0.725},
{"c":"C5","t":0,"v":0},{"c":"C5","t":0.5,"v":0.015},{"c":"C5","t":1,"v":0.04},{"c":"C5","t":1.5,"v":0.075},{"c":"C5","t":2,"v":0.115},{"c":"C5","t":2.5,"v":0.155},{"c":"C5","t":3,"v":0.195},{"c":"C5","t":3.5,"v":0.235},{"c":"C5","t":4,"v":0.27},{"c":"C5","t":5,"v":0.33},{"c":"C5","t":6,"v":0.378},{"c":"C5","t":7,"v":0.418},{"c":"C5","t":8,"v":0.45},{"c":"C5","t":9,"v":0.478},{"c":"C5","t":10,"v":0.503},{"c":"C5","t":11,"v":0.523},{"c":"C5","t":12,"v":0.541},{"c":"C5","t":13,"v":0.557},{"c":"C5","t":14,"v":0.572},{"c":"C5","t":15,"v":0.586},{"c":"C5","t":16,"v":0.6},{"c":"C5","t":17,"v":0.614},{"c":"C5","t":18,"v":0.628},{"c":"C5","t":19,"v":0.642},{"c":"C5","t":20,"v":0.656},
{"c":"C6","t":0,"v":0},{"c":"C6","t":1,"v":0.002},{"c":"C6","t":2,"v":0.012},{"c":"C6","t":3,"v":0.033},{"c":"C6","t":4,"v":0.058},{"c":"C6","t":5,"v":0.085},{"c":"C6","t":6,"v":0.111},{"c":"C6","t":7,"v":0.135},{"c":"C6","t":8,"v":0.158},{"c":"C6","t":9,"v":0.179},{"c":"C6","t":10,"v":0.2},{"c":"C6","t":11,"v":0.22},{"c":"C6","t":12,"v":0.24},{"c":"C6","t":13,"v":0.259},{"c":"C6","t":14,"v":0.277},{"c":"C6","t":15,"v":0.294},{"c":"C6","t":16,"v":0.311},{"c":"C6","t":17,"v":0.328},{"c":"C6","t":18,"v":0.344},{"c":"C6","t":19,"v":0.359},{"c":"C6","t":20,"v":0.374},
{"c":"C7","t":0,"v":0},{"c":"C7","t":1,"v":0.001},{"c":"C7","t":2,"v":0.008},{"c":"C7","t":3,"v":0.02},{"c":"C7","t":4,"v":0.037},{"c":"C7","t":5,"v":0.056},{"c":"C7","t":6,"v":0.073},{"c":"C7","t":7,"v":0.089},{"c":"C7","t":8,"v":0.105},{"c":"C7","t":9,"v":0.121},{"c":"C7","t":10,"v":0.137},{"c":"C7","t":11,"v":0.152},{"c":"C7","t":12,"v":0.167},{"c":"C7","t":13,"v":0.183},{"c":"C7","t":14,"v":0.198},{"c":"C7","t":15,"v":0.213},{"c":"C7","t":16,"v":0.228},{"c":"C7","t":17,"v":0.242},{"c":"C7","t":18,"v":0.256},{"c":"C7","t":19,"v":0.27},{"c":"C7","t":20,"v":0.284},
{"c":"C8","t":0,"v":0},{"c":"C8","t":1,"v":0},{"c":"C8","t":2,"v":0.004},{"c":"C8","t":3,"v":0.009},{"c":"C8","t":4,"v":0.016},{"c":"C8","t":5,"v":0.025},{"c":"C8","t":6,"v":0.033},{"c":"C8","t":7,"v":0.042},{"c":"C8","t":8,"v":0.051},{"c":"C8","t":9,"v":0.06},{"c":"C8","t":10,"v":0.07},{"c":"C8","t":11,"v":0.079},{"c":"C8","t":12,"v":0.088},{"c":"C8","t":13,"v":0.097},{"c":"C8","t":14,"v":0.106},{"c":"C8","t":15,"v":0.116},{"c":"C8","t":16,"v":0.125},{"c":"C8","t":17,"v":0.134},{"c":"C8","t":18,"v":0.144},{"c":"C8","t":19,"v":0.154},{"c":"C8","t":20,"v":0.164}
]
},
"bounds":"flush",
"spacing":113,
"vconcat":[
{
 "width":311,"height":268,
 "title":{"text":"A","dx":-96,"offset":41},
 "layer":[
  {"data":{"name":"dots"},"mark":{"type":"point","shape":"square","filled":true,"size":4,"color":"#000","opacity":1},
   "encoding":{
    "x":{"field":"t","type":"quantitative","scale":{"domain":[0,20]},"axis":{"title":"Time (sec)","values":[0,5,10,15,20]}},
    "y":{"field":"v","type":"quantitative","scale":{"domain":[0,1]},"axis":{"title":"Normalized Fluorescence","values":[0,0.2,0.4,0.6,0.8,1],"format":"~g","titlePadding":31}},
    "detail":{"field":"s"}}},
  {"data":{"name":"fA"},"mark":{"type":"line","color":"#ff0000","strokeWidth":2,"interpolate":"monotone"},
   "encoding":{
    "x":{"field":"t","type":"quantitative","axis":{"orient":"top","labels":false,"title":null,"values":[0,5,10,15,20]}},
    "y":{"field":"v","type":"quantitative","axis":{"orient":"right","labels":false,"title":null,"values":[0,0.2,0.4,0.6,0.8,1]}},
    "detail":{"field":"c"}}}
 ],
 "resolve":{"axis":{"x":"independent","y":"independent"}}
},
{
 "bounds":"flush",
 "spacing":92,
 "vconcat":[
 {
 "width":311,"height":268,
 "title":{"text":"B","dx":-96,"offset":45},
 "layer":[
  {"data":{"name":"dots"},"mark":{"type":"point","shape":"square","filled":true,"size":4,"color":"#000","opacity":1},
   "encoding":{
    "x":{"field":"t","type":"quantitative","scale":{"domain":[0,20]},"axis":{"title":"Time (sec)","values":[0,5,10,15,20]}},
    "y":{"field":"v","type":"quantitative","scale":{"domain":[0,1]},"axis":{"title":"Normalized Fluorescence","values":[0,0.2,0.4,0.6,0.8,1],"format":"~g","titlePadding":31}},
    "detail":{"field":"s"}}},
  {"data":{"name":"fB"},"mark":{"type":"line","color":"#ff0000","strokeWidth":2,"interpolate":"monotone"},
   "encoding":{
    "x":{"field":"t","type":"quantitative","axis":{"orient":"top","labels":false,"title":null,"values":[0,5,10,15,20]}},
    "y":{"field":"v","type":"quantitative","axis":{"orient":"right","labels":false,"title":null,"values":[0,0.2,0.4,0.6,0.8,1]}},
    "detail":{"field":"c"}}}
 ],
 "resolve":{"axis":{"x":"independent","y":"independent"}}
 },
 {
 "bounds":"flush",
 "spacing":3,
 "hconcat":[
 {
  "width":1,"height":1,
  "view":{"stroke":null},
  "data":{"values":[]},
  "mark":"point",
  "encoding":{"x":{"field":"t","type":"quantitative","axis":null},"y":{"field":"v","type":"quantitative","axis":null}}
 },
 {
 "width":311,"height":268,
 "title":{"text":"C","dx":-90,"offset":26},
 "layer":[
  {"data":{"name":"dots"},"mark":{"type":"point","shape":"square","filled":true,"size":4,"color":"#000","opacity":1},
   "encoding":{
    "x":{"field":"t","type":"quantitative","scale":{"domain":[0,20]},"axis":{"title":"Time (sec)","values":[0,5,10,15,20]}},
    "y":{"field":"v","type":"quantitative","scale":{"domain":[0,1]},"axis":{"title":"Normalized Fluorescence","values":[0,0.2,0.4,0.6,0.8,1],"format":"~g","titlePadding":31}},
    "detail":{"field":"s"}}},
  {"data":{"name":"fC"},"mark":{"type":"line","color":"#ff0000","strokeWidth":2,"interpolate":"monotone"},
   "encoding":{
    "x":{"field":"t","type":"quantitative","axis":{"orient":"top","labels":false,"title":null,"values":[0,5,10,15,20]}},
    "y":{"field":"v","type":"quantitative","axis":{"orient":"right","labels":false,"title":null,"values":[0,0.2,0.4,0.6,0.8,1]}},
    "detail":{"field":"c"}}}
 ],
 "resolve":{"axis":{"x":"independent","y":"independent"}}
 }
 ]
 }
 ]
}
]
}
